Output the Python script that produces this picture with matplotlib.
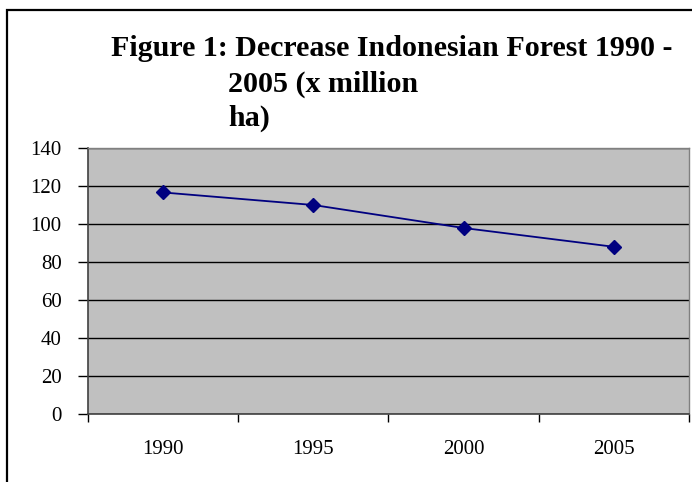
import matplotlib
matplotlib.use("Agg")
import matplotlib.pyplot as plt
from matplotlib.patches import Rectangle

years = ["1990", "1995", "2000", "2005"]
forest_area = [116.6, 110.0, 97.9, 88.0]
y_ticks = [0, 20, 40, 60, 80, 100, 120, 140]
title_lines = ["Figure 1: Decrease Indonesian Forest 1990 -", "2005 (x million", "ha)"]

plt.rcParams["font.family"] = ["Liberation Serif", "DejaVu Serif"]

fig = plt.figure(figsize=(6.92, 4.82), dpi=100)
W, H = 692, 482

# outer chart border (runs off the right and bottom edges)
fig.patches.append(Rectangle((7 / W, -0.05), 1.2, (H - 10) / H + 0.05,
                             transform=fig.transFigure, fill=False,
                             edgecolor="black", linewidth=1.6))

ax = fig.add_axes([88 / W, (H - 414) / H, (689 - 88) / W, (414 - 148) / H])
ax.set_facecolor("#C0C0C0")

x = list(range(len(years)))
ax.plot(x, forest_area, color="#000080", linewidth=1.3, marker="D",
        markersize=7, markerfacecolor="#000080", markeredgecolor="#000080",
        zorder=3)

ax.set_xlim(-0.5, len(years) - 0.5)
ax.set_ylim(0, 140)
ax.set_yticks(y_ticks)
ax.set_yticklabels([str(v) for v in y_ticks], fontsize=15)
ax.yaxis.grid(True, color="black", linewidth=1.0)
ax.set_axisbelow(True)

ax.set_xticks(x)
ax.set_xticklabels(years, fontsize=15)
ax.set_xticks([i - 0.5 for i in range(len(years) + 1)], minor=True)
ax.tick_params(axis="x", which="major", length=0, pad=19)
ax.tick_params(axis="x", which="minor", length=6, width=1, color="black")
ax.tick_params(axis="y", length=7, width=1, color="black", pad=12)

for side in ("top", "right"):
    ax.spines[side].set_color("#808080")
    ax.spines[side].set_linewidth(1.0)
for side in ("left", "bottom"):
    ax.spines[side].set_color("#404040")
    ax.spines[side].set_linewidth(1.2)

title_kw = dict(fontsize=21.6, fontweight="bold", ha="left", va="baseline")
fig.text(111 / W, 1 - 56 / H, title_lines[0], **title_kw)
fig.text(228 / W, 1 - 92 / H, title_lines[1], **title_kw)
fig.text(228 / W, 1 - 126 / H, title_lines[2], **title_kw)

fig.savefig("out.png", dpi=100)
